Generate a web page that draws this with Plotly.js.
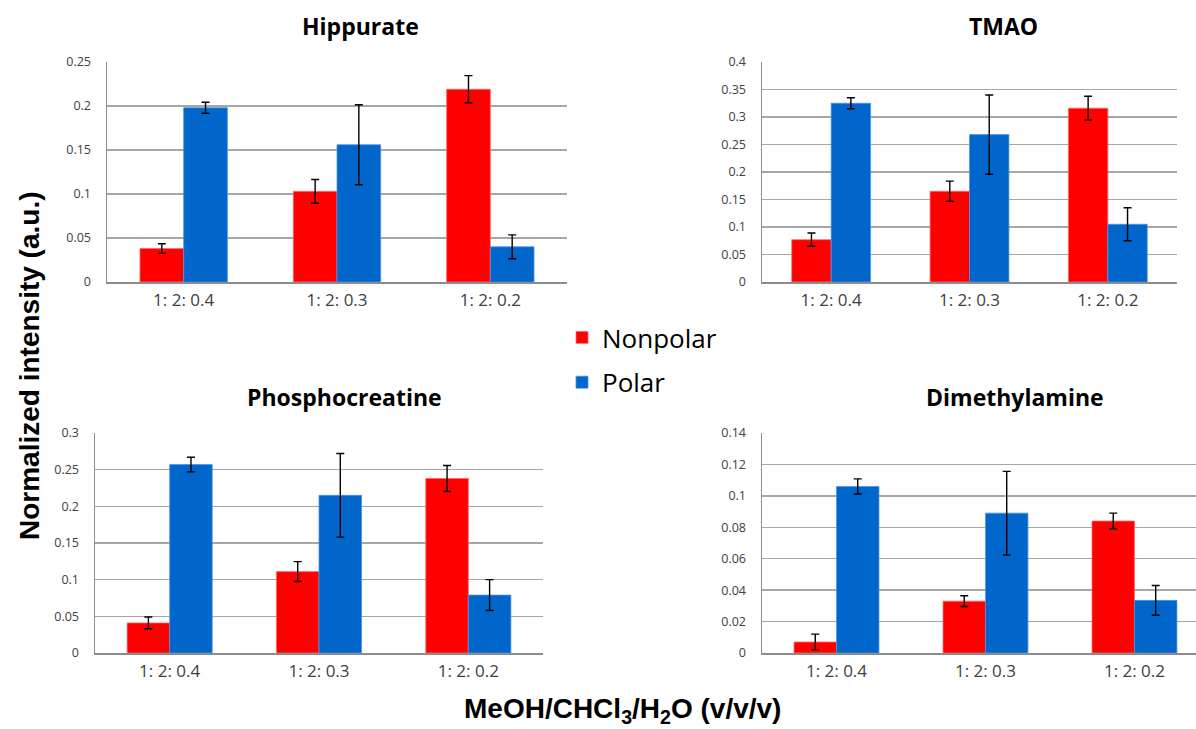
<!DOCTYPE html>
<html>
<head>
<meta charset="utf-8">
<script src="https://cdn.plot.ly/plotly-3.0.1.min.js"></script>
<style>
  html, body { margin: 0; padding: 0; background: #ffffff; }
  #chart { width: 1196px; height: 729px; }
</style>
</head>
<body>
<div id="chart"></div>
<script>
// Solvent ratios (MeOH : CHCl3 : H2O)
const ratios = ['1: 2: 0.4', '1: 2: 0.3', '1: 2: 0.2'];

// Hippurate
const hippNonpolar    = [0.038, 0.103, 0.219];
const hippNonpolarErr = [0.0055, 0.0135, 0.0155];
const hippPolar       = [0.198, 0.156, 0.040];
const hippPolarErr    = [0.0063, 0.0455, 0.0135];

// TMAO
const tmaoNonpolar    = [0.077, 0.165, 0.316];
const tmaoNonpolarErr = [0.012, 0.0185, 0.0216];
const tmaoPolar       = [0.325, 0.268, 0.105];
const tmaoPolarErr    = [0.010, 0.072, 0.030];

// Phosphocreatine
const pcrNonpolar    = [0.041, 0.111, 0.238];
const pcrNonpolarErr = [0.008, 0.0136, 0.0177];
const pcrPolar       = [0.257, 0.215, 0.079];
const pcrPolarErr    = [0.010, 0.057, 0.021];

// Dimethylamine
const dmaNonpolar    = [0.007, 0.033, 0.084];
const dmaNonpolarErr = [0.005, 0.0034, 0.005];
const dmaPolar       = [0.106, 0.089, 0.0335];
const dmaPolarErr    = [0.0048, 0.0266, 0.0095];

const panelTitles = ['Hippurate', 'TMAO', 'Phosphocreatine', 'Dimethylamine'];
const seriesNames = ['Nonpolar', 'Polar'];

const RED = '#FF0000';
const BLUE = '#0066CC';

function barTrace(name, vals, errs, color, axisIdx, showLegend) {
  const sfx = axisIdx === 1 ? '' : String(axisIdx);
  return {
    type: 'bar',
    name: name,
    legendgroup: name,
    showlegend: showLegend,
    x: ratios,
    y: vals,
    xaxis: 'x' + sfx,
    yaxis: 'y' + sfx,
    marker: { color: color, line: { color: color === RED ? '#ff6a6a' : '#4d94e0', width: 0.8 } },
    error_y: { type: 'data', array: errs, visible: true, color: '#000000', thickness: 1.4, width: 4 },
    hoverinfo: 'x+y'
  };
}

const data = [
  barTrace(seriesNames[0], hippNonpolar, hippNonpolarErr, RED, 1, true),
  barTrace(seriesNames[1], hippPolar, hippPolarErr, BLUE, 1, true),
  barTrace(seriesNames[0], tmaoNonpolar, tmaoNonpolarErr, RED, 2, false),
  barTrace(seriesNames[1], tmaoPolar, tmaoPolarErr, BLUE, 2, false),
  barTrace(seriesNames[0], pcrNonpolar, pcrNonpolarErr, RED, 3, false),
  barTrace(seriesNames[1], pcrPolar, pcrPolarErr, BLUE, 3, false),
  barTrace(seriesNames[0], dmaNonpolar, dmaNonpolarErr, RED, 4, false),
  barTrace(seriesNames[1], dmaPolar, dmaPolarErr, BLUE, 4, false)
];

const W = 1196, H = 729;
const px = v => v / W;
const py = v => 1 - v / H;

const tickFontY = { family: 'Open Sans, sans-serif', size: 12.5, color: '#404040' };
const tickFontX = { family: 'Open Sans, sans-serif', size: 17, color: '#404040' };

function xAxis(l, r, anchor, range) {
  const ax = {
    domain: [px(l), px(r)],
    anchor: anchor,
    type: 'category',
    showline: true, linecolor: '#8c8c8c', linewidth: 1.5,
    ticks: '', showgrid: false, zeroline: false,
    tickfont: tickFontX, ticklabelstandoff: 2,
    fixedrange: true
  };
  if (range) ax.range = range;
  return ax;
}
function yAxis(top, bottom, max, dtick, anchor) {
  return {
    domain: [py(bottom), py(top)],
    range: [0, max], dtick: dtick, tick0: 0,
    showline: true, linecolor: '#8c8c8c', linewidth: 1.5,
    showgrid: true, gridcolor: '#a6a6a6', gridwidth: 1.5,
    zeroline: false, ticks: '',
    tickfont: tickFontY, ticklabelstandoff: 12,
    anchor: anchor, fixedrange: true
  };
}

const titleFont = { family: 'Open Sans, sans-serif', size: 23, color: '#000000', weight: 'bold' };
const axisTitleFont = { family: 'Liberation Sans, Arial, sans-serif', size: 28, color: '#000000', weight: 'bold' };

function label(text, x, y, font, angle) {
  return { text: text, x: px(x), y: py(y), xref: 'paper', yref: 'paper',
           xanchor: 'center', yanchor: 'middle', showarrow: false,
           font: font, textangle: angle || 0 };
}

const layout = {
  width: W, height: H,
  margin: { l: 0, r: 0, t: 0, b: 0 },
  paper_bgcolor: '#ffffff', plot_bgcolor: '#ffffff',
  barmode: 'group', bargap: 0.43, bargroupgap: 0,
  xaxis:  xAxis(107, 567, 'y'),
  yaxis:  yAxis(62, 282, 0.25, 0.05, 'x'),
  xaxis2: xAxis(762, 1177, 'y2'),
  yaxis2: yAxis(62, 282, 0.4, 0.05, 'x2'),
  xaxis3: xAxis(95, 543, 'y3'),
  yaxis3: yAxis(433, 653, 0.3, 0.05, 'x3'),
  xaxis4: xAxis(762, 1196, 'y4', [-0.5, 2.413]),
  yaxis4: yAxis(433, 653, 0.14, 0.02, 'x4'),
  showlegend: true,
  legend: {
    x: px(562), y: py(314), xanchor: 'left', yanchor: 'top',
    font: { family: 'Open Sans, sans-serif', size: 26, color: '#000000' },
    traceorder: 'grouped', tracegroupgap: 8,
    bgcolor: 'rgba(0,0,0,0)', itemwidth: 30
  },
  annotations: [
    label(panelTitles[0], 360, 26, titleFont),
    label(panelTitles[1], 1003, 26, titleFont),
    label(panelTitles[2], 345, 397, titleFont),
    label(panelTitles[3], 1015, 397, titleFont),
    label('Normalized intensity (a.u.)', 29, 366, axisTitleFont, -90),
    label('MeOH/CHCl<sub>3</sub>/H<sub>2</sub>O (v/v/v)', 622, 710, axisTitleFont)
  ]
};

Plotly.newPlot('chart', data, layout, { displayModeBar: false, staticPlot: true });
</script>
</body>
</html>
